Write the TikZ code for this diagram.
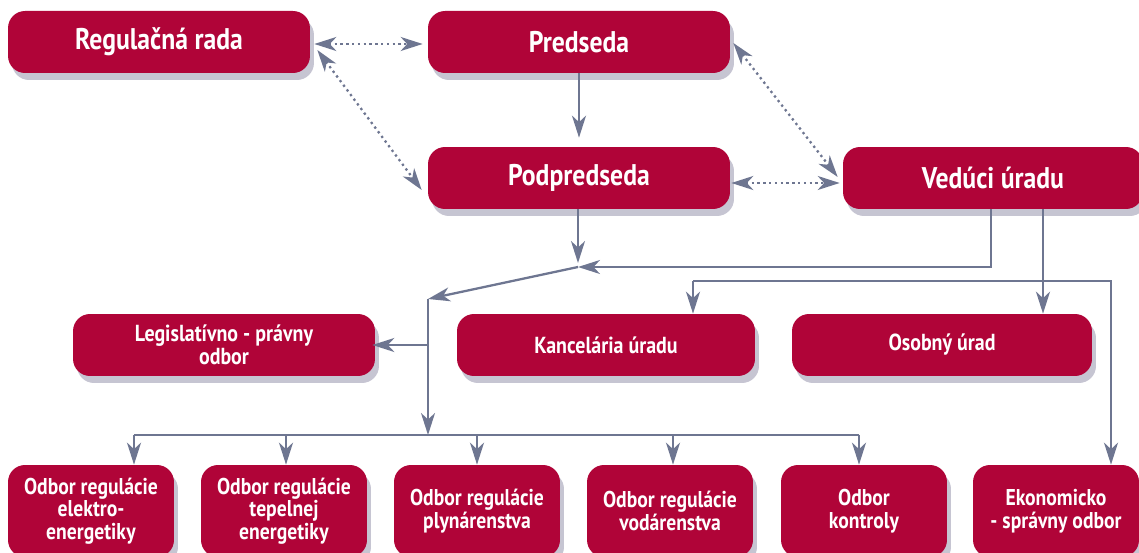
\documentclass[tikz,border=0pt]{standalone}
\usepackage{fontspec}
\setmainfont{PT Sans}[FakeStretch=0.86]
\usetikzlibrary{arrows.meta,
	calc,
	positioning,
	shadows}
\definecolor{boxred}{RGB}{176,4,56}
\definecolor{shadowgray}{RGB}{198,197,210}
\definecolor{linegray}{RGB}{110,118,145}

\begin{document}
\begin{tikzpicture}[x=0.02cm, y=-0.02cm,
	>={Stealth[length=0.44cm,width=0.28cm,inset=0.13cm]},
	orgbox/.style={fill=boxred, rounded corners=0.34cm, text=white, align=center, inner sep=0pt,
		drop shadow={shadow xshift=0.08cm, shadow yshift=-0.14cm, fill=shadowgray, opacity=1}},
	topbox/.style={orgbox, minimum width=6.04cm, minimum height=1.24cm, font=\fontsize{17}{19}\selectfont\bfseries},
	midbox/.style={orgbox, minimum width=6cm, minimum height=1.24cm, font=\fontsize{13.2}{13.2}\selectfont\bfseries},
	lowbox/.style={orgbox, minimum width=3.32cm, minimum height=1.84cm, font=\fontsize{13}{12.8}\selectfont\bfseries},
	link/.style={draw=linegray, line width=1.3pt},
	dotlink/.style={link, dotted, <->}]
	\useasboundingbox (0,0) rectangle (1139,553);
	\clip (0,0) rectangle (1139,553);
	% vedenie
	\node[topbox] (rada) at (159,42) {Regulačná rada};
	\node[topbox] (pred) at (579,42) {Predseda};
	\node[topbox] (podp) at (579,178) {Podpredseda};
	\node[topbox, minimum width=6cm] (ved) at (993,178) {Vedúci úradu};
	% stredny rad
	\node[midbox, minimum width=6.04cm] (leg) at (224,345) {Legislatívno - právny\\odbor};
	\node[midbox, minimum width=5.96cm] (kanc) at (606,345) {Kancelária úradu};
	\node[midbox] (osob) at (942,345) {Osobný úrad};
	% odbory
	\node[lowbox] (elek) at (91,511) {Odbor regulácie\\elektro-\\energetiky};
	\node[lowbox] (tep) at (284,511) {Odbor regulácie\\tepelnej\\energetiky};
	\node[lowbox] (plyn) at (477,511) {Odbor regulácie\\plynárenstva};
	\node[lowbox] (vod) at (670,511) {Odbor regulácie\\vodárenstva};
	\node[lowbox] (kont) at (864,511) {Odbor\\kontroly};
	\node[lowbox] (ekon) at (1056,511) {Ekonomicko\\- správny odbor};
	% body vetvenia
	\coordinate (j1) at (578,267);
	\coordinate (j2) at (428,299);
	\coordinate (k1) at (991,267);
	\coordinate (k2) at (1043,281);
	\coordinate (k3) at (693,281);
	\coordinate (k4) at (1111,281);
	\coordinate (bus) at (428,435);
	\foreach \n/\x in {1/134,2/286,3/477,4/673,5/859} {
		\coordinate (b\n) at (\x,435);
	}
	% bodkovane vztahy
	\draw[dotlink] ($(rada.east)+(4,2)$) -- ($(pred.west)+(-5,2)$);
	\draw[dotlink] ($(rada.east)+(7,8)$) -- ($(podp.west)+(-6,12)$);
	\draw[dotlink] ($(pred.east)+(3,1)$) -- ($(ved.west)+(-5,-1)$);
	\draw[dotlink] ($(podp.east)+(1,5)$) -- ($(ved.west)+(-3,5)$);
	% riadenie
	\draw[link,->,shorten >=0.18cm] (pred) -- (podp);
	\draw[link,->,shorten >=0.08cm] (podp.south -| j1) -- (j1);
	\draw[link,->] (ved.south -| k1) |- (j1);
	\draw[link,->] (j1) -- (j2);
	\draw[link,->] (j2) -- (bus);
	\draw[link,->,shorten >=-0.06cm] (j2 |- leg.east) -- (leg.east);
	\draw[link] (b1) -- (b5);
	\foreach \n/\unit in {1/elek,2/tep,3/plyn,4/vod,5/kont} {
		\draw[link,->] (b\n) -- (b\n |- \unit.north);
	}
	\draw[link,->] (ved.south -| k2) -- (k2 |- osob.north);
	\draw[link,->] (k3) -- (k3 |- kanc.north);
	\draw[link,->] (k3) -- (k4) -- (k4 |- ekon.north);
\end{tikzpicture}
\end{document}
